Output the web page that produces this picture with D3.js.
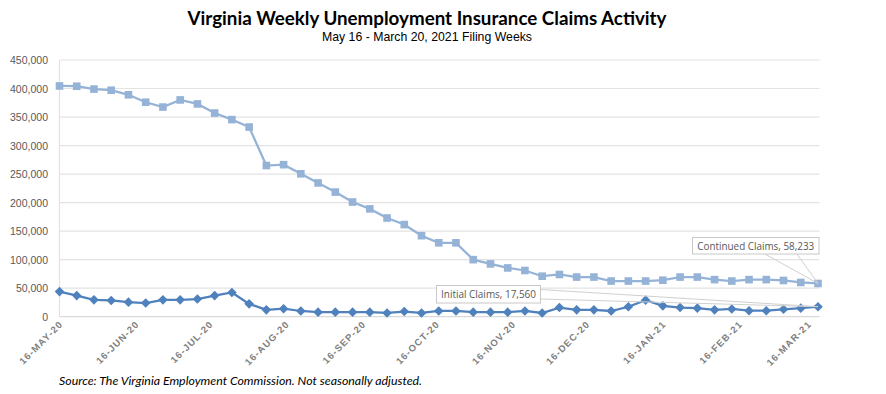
<!DOCTYPE html>
<html>
<head>
<meta charset="utf-8">
<script src="https://cdn.jsdelivr.net/npm/d3@7"></script>
<style>
  html, body { margin: 0; padding: 0; background: #fff; }
  svg { display: block; }
  .tick-y { font-family: "Liberation Sans", Arial, sans-serif; font-size: 10.5px; fill: #595959; }
  .tick-x { font-family: "Liberation Sans", Arial, sans-serif; font-size: 9.5px; font-weight: bold; fill: #7f7f7f; letter-spacing: 1.1px; }
  .callout { font-family: "Open Sans", sans-serif; font-size: 10.5px; fill: #595959; }
</style>
</head>
<body>
<svg id="chart" width="886" height="394"></svg>
<script>
// week-ending filing dates
const weeks= [
  '2020-05-16','2020-05-23','2020-05-30','2020-06-06','2020-06-13','2020-06-20','2020-06-27',
  '2020-07-04','2020-07-11','2020-07-18','2020-07-25','2020-08-01','2020-08-08','2020-08-15',
  '2020-08-22','2020-08-29','2020-09-05','2020-09-12','2020-09-19','2020-09-26','2020-10-03',
  '2020-10-10','2020-10-17','2020-10-24','2020-10-31','2020-11-07','2020-11-14','2020-11-21',
  '2020-11-28','2020-12-05','2020-12-12','2020-12-19','2020-12-26','2021-01-02','2021-01-09',
  '2021-01-16','2021-01-23','2021-01-30','2021-02-06','2021-02-13','2021-02-20','2021-02-27',
  '2021-03-06','2021-03-13','2021-03-20'
];

const continuedClaims= [
  404500, 404000, 399000, 397000, 389000, 376000, 367500, 380000, 373000, 357000, 345500, 332500,
  265000, 266500, 250500, 234500, 218500, 201000, 189000, 173000, 161500, 142000, 129500, 129500,
  100000, 92500, 85500, 81000, 71000, 74000, 69500, 69500, 62500, 62500, 62500, 64000,
  69500, 69500, 65000, 62500, 65000, 65000, 63500, 60000, 58233
];

const initialClaims= [
  44000, 37000, 29500, 28500, 25500, 24000, 29500, 29500, 31000, 37000, 42500, 22500,
  12000, 14000, 10000, 8000, 8000, 8000, 8000, 6500, 9000, 6500, 10000, 10000,
  8000, 8000, 8000, 10000, 6500, 16000, 12000, 12000, 10000, 17500, 29000, 19000,
  16000, 15000, 12000, 13500, 10500, 10500, 13000, 15000, 17560
];

const yTicks= [0, 50000, 100000, 150000, 200000, 250000, 300000, 350000, 400000, 450000];
const xTickLabels= [
  '16-MAY-20','16-JUN-20','16-JUL-20','16-AUG-20','16-SEP-20','16-OCT-20',
  '16-NOV-20','16-DEC-20','16-JAN-21','16-FEB-21','16-MAR-21'
];

const parseDay= d3.timeParse('%Y-%m-%d');
const parseTick= d3.timeParse('%d-%b-%y');
const dates= weeks.map(parseDay);
const tickDates= xTickLabels.map(parseTick);

const svg= d3.select('#chart');
const L= 59.5, R= 818, T= 60, B= 316.7;

const x= d3.scaleTime().domain([dates[0], dates[dates.length-1]]).range([L, R]);
const y= d3.scaleLinear().domain([0, 450000]).range([B, T]);

// title
svg.append('text')
  .attr('x', 427).attr('y', 24.5)
  .attr('text-anchor', 'middle')
  .attr('textLength', 479).attr('lengthAdjust', 'spacingAndGlyphs')
  .style('font-family', 'Lato, "Open Sans", sans-serif')
  .style('font-weight', 'bold').style('font-size', '18.5px').style('fill', '#000')
  .text('Virginia Weekly Unemployment Insurance Claims Activity');

svg.append('text')
  .attr('x', 427).attr('y', 41)
  .attr('text-anchor', 'middle')
  .attr('textLength', 210).attr('lengthAdjust', 'spacingAndGlyphs')
  .style('font-family', '"Liberation Sans Narrow", "Liberation Sans", Arial, sans-serif')
  .style('font-size', '13.5px').style('fill', '#000')
  .text('May 16 - March 20, 2021 Filing Weeks');

// gridlines
svg.append('g')
  .selectAll('line')
  .data(yTicks.slice(1))
  .join('line')
  .attr('x1', L).attr('x2', R+1.5)
  .attr('y1', d => y(d)).attr('y2', d => y(d))
  .attr('stroke', '#e3e3e3').attr('stroke-width', 1.2);

// axis lines
svg.append('line')
  .attr('x1', L).attr('x2', L).attr('y1', T).attr('y2', B)
  .attr('stroke', '#e3e3e3').attr('stroke-width', 1.2);
svg.append('line')
  .attr('x1', L).attr('x2', R+1.5).attr('y1', B).attr('y2', B)
  .attr('stroke', '#d9d9d9').attr('stroke-width', 1.2);

// y tick labels
const fmt= d3.format(',');
svg.append('g')
  .selectAll('text')
  .data(yTicks)
  .join('text')
  .attr('class', 'tick-y')
  .attr('x', 48).attr('y', d => y(d)+4)
  .attr('text-anchor', 'end')
  .text(d => fmt(d));

// x tick labels, rotated
svg.append('g')
  .selectAll('text')
  .data(tickDates)
  .join('text')
  .attr('class', 'tick-x')
  .attr('text-anchor', 'end')
  .attr('transform', (d) => `translate(${x(d)+4},${B+8}) rotate(-45)`)
  .text((d, i) => xTickLabels[i]);

// series
const line= d3.line().x((d, i) => x(dates[i])).y(d => y(d));

svg.append('path')
  .datum(continuedClaims)
  .attr('d', line)
  .attr('fill', 'none').attr('stroke', '#95b3d7').attr('stroke-width', 2.25);

svg.append('g')
  .selectAll('rect')
  .data(continuedClaims)
  .join('rect')
  .attr('x', (d, i) => x(dates[i])-3.8)
  .attr('y', d => y(d)-3.8)
  .attr('width', 7.6).attr('height', 7.6)
  .attr('fill', '#95b3d7');

svg.append('path')
  .datum(initialClaims)
  .attr('d', line)
  .attr('fill', 'none').attr('stroke', '#4f81bd').attr('stroke-width', 2.25);

svg.append('g')
  .selectAll('path')
  .data(initialClaims)
  .join('path')
  .attr('transform', (d, i) => `translate(${x(dates[i])},${y(d)})`)
  .attr('d', 'M0,-4.8L4.8,0L0,4.8L-4.8,0Z')
  .attr('fill', '#4f81bd');

// callouts
const last= dates.length-1;
const px= x(dates[last]);

function callout(bx, by, bw, bh, label, pts, tx) {
  const g= svg.append('g');
  g.append('path')
    .attr('d', `M${pts[0][0]},${pts[0][1]}L${pts[2][0]},${pts[2][1]}L${pts[1][0]},${pts[1][1]}`)
    .attr('fill', 'none').attr('stroke', '#d0d0d0').attr('stroke-width', 1);
  g.append('rect')
    .attr('x', bx).attr('y', by).attr('width', bw).attr('height', bh)
    .attr('fill', '#fff').attr('stroke', '#c8c8c8').attr('stroke-width', 1);
  g.append('text')
    .attr('class', 'callout')
    .attr('x', bx+bw/2).attr('y', by+bh/2+3.8)
    .attr('text-anchor', 'middle')
    .attr('textLength', tx).attr('lengthAdjust', 'spacingAndGlyphs')
    .text(label);
}

const cy= y(continuedClaims[last]);
callout(692.5, 237.5, 126.5, 16.5, 'Continued Claims, ' + fmt(continuedClaims[last]),
  [[765, 254], [797, 254], [px, cy]], 117);

const iy= y(initialClaims[last]);
callout(436.5, 285.5, 104, 17.5, 'Initial Claims, ' + fmt(initialClaims[last]),
  [[540.5, 289.5], [540.5, 299], [px, iy]], 95);

// source note
svg.append('text')
  .attr('x', 59).attr('y', 385)
  .attr('textLength', 363).attr('lengthAdjust', 'spacingAndGlyphs')
  .style('font-family', 'Lato, "Open Sans", sans-serif')
  .style('font-style', 'italic').style('font-size', '12px').style('fill', '#000')
  .text('Source: The Virginia Employment Commission. Not seasonally adjusted.');
</script>
</body>
</html>
